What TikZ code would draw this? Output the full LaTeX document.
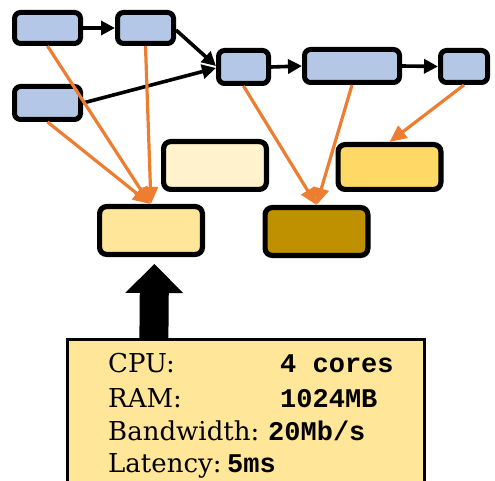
\documentclass[tikz,border=0pt]{standalone}
\usepackage{fontspec}
\setmainfont{DejaVu Serif}
\newfontfamily\codefont{Liberation Mono}
\usetikzlibrary{arrows.meta,calc}

\definecolor{taskblue}{HTML}{B4C7E7}
\definecolor{cream}{HTML}{FFF2CC}
\definecolor{sand}{HTML}{FFE699}
\definecolor{gold}{HTML}{FFD966}
\definecolor{ochre}{HTML}{BF9000}
\definecolor{mapline}{HTML}{ED7D31}

\tikzset{
  taskbox/.style={draw=black, line width=5pt, fill=taskblue, rounded corners=6pt,
    inner sep=0pt, minimum width=#1},
  hostbox/.style={draw=black, line width=5.2pt, rounded corners=7pt,
    inner sep=0pt, minimum width=102.8pt, minimum height=47.8pt},
  flow/.style={line width=3.6pt, -{Triangle[length=14pt,width=14pt]}},
  mapping/.style={draw=mapline, line width=3.2pt, -{Triangle[length=17pt,width=15pt]}},
  spec/.style={anchor=base west, inner sep=0pt, font=\fontsize{26}{30}\selectfont},
  specval/.style={anchor=base west, inner sep=0pt, font=\codefont\bfseries\fontsize{27}{30}\selectfont},
}

\begin{document}
\begin{tikzpicture}[x=1pt, y=-1pt]
\useasboundingbox (0,0) rectangle (495,481);

% task graph
\node[taskbox=66pt, minimum height=31pt] (A) at (47.5,28) {};
\node[taskbox=56pt, minimum height=31pt] (B) at (145.5,28) {};
\node[taskbox=66pt, minimum height=33pt] (C) at (47.5,103) {};
\node[taskbox=50pt, minimum height=33pt] (D) at (243.5,67) {};
\node[taskbox=95pt, minimum height=33pt] (E) at (352,66) {};
\node[taskbox=47pt, minimum height=32pt] (F) at (464,66.5) {};

% hosts
\node[hostbox, fill=cream] (G) at (215,165.5) {};
\node[hostbox, fill=gold, minimum height=44.8pt] (H) at (389.5,167) {};
\node[hostbox, fill=sand] (I) at (151,230.5) {};
\node[hostbox, fill=ochre] (J) at (316.5,231.5) {};

% dependencies
\draw[flow] ($(B.east)+(0,2)$) -- ($(D.west)+(0,-1)$);
\draw[flow] (C.east) -- ($(D.west)+(0,1)$);
\draw[flow] (A.east) -- (B.west);
\draw[flow] (D.east) -- (E.west);
\draw[flow] (E.east) -- (F.west);

% placement of tasks on hosts
\draw[mapping] (A.south) -- ($(I.north)+(-1,0)$);
\draw[mapping] (B.south) -- ($(I.north)+(0,0)$);
\draw[mapping] (C.south) -- ($(I.north)+(-1,0)$);
\draw[mapping] (D.south) -- (J.north);
\draw[mapping] (E.south) -- (J.north);
\draw[mapping] (F.south) -- (H.north);

% host specification
\node[draw=black, line width=2.8pt, fill=sand, inner sep=0pt,
      minimum width=357pt, minimum height=160pt, anchor=north west] (K) at (66.4,338.4) {};
\coordinate (pbase) at ($(K.north west)+(87.5,0)$);
\coordinate (ptip) at (154.5,264);
\draw[line width=29pt, -{Triangle[length=29pt,width=58pt,line width=0pt]}] (pbase) -- (ptip);

\node[spec] (cpu) at (108,372) {CPU:};
\node[specval] (cpuv) at (280,372) {4 cores};
\node[spec] (ram) at (108,407) {RAM:};
\node[specval] (ramv) at (280,407) {1024MB};
\node[spec] (bw) at (108,440) {Bandwidth:};
\node[specval] (bwv) at (268,440) {20Mb/s};
\node[spec] (lat) at (108,472) {Latency:};
\node[specval] (latv) at (227,472) {5ms};
\end{tikzpicture}
\end{document}
